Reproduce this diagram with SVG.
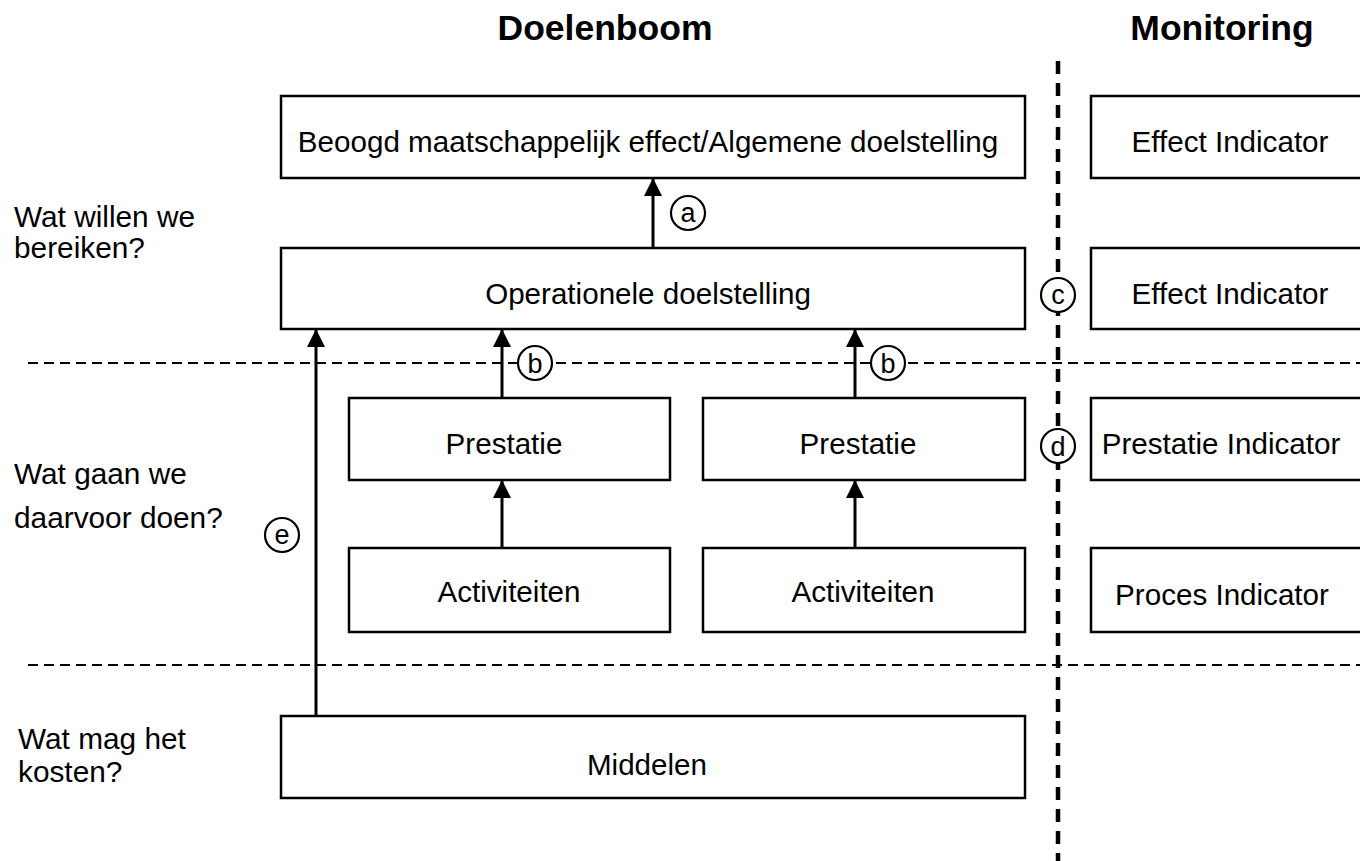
<svg xmlns="http://www.w3.org/2000/svg" width="1360" height="861" viewBox="0 0 1360 861">
<style>
text{font-family:"Liberation Sans",Arial,sans-serif;fill:#000}
.box{fill:#fff;stroke:#000;stroke-width:2.5}
.bt{font-size:29.6px;text-anchor:middle}
.lbl{font-size:29.8px}
.title{font-size:35.5px;font-weight:bold;text-anchor:middle}
.arr{stroke:#000;stroke-width:3;fill:none;marker-end:url(#ah)}
.hd{stroke:#000;stroke-width:2;stroke-dasharray:10 6;fill:none}
.vd{stroke:#000;stroke-width:4.5;stroke-dasharray:13 9;fill:none}
.cir{fill:#fff;stroke:#000;stroke-width:2.2}
.ct{font-size:27px;text-anchor:middle}
</style>
<defs>
<marker id="ah" viewBox="0 0 18 18" refX="18" refY="9" markerWidth="18" markerHeight="18" markerUnits="userSpaceOnUse" orient="auto">
<path d="M0,0 L18,9 L0,18 Z" fill="#000"/>
</marker>
</defs>
<rect width="1360" height="861" fill="#fff"/>
<text class="title" x="605" y="40">Doelenboom</text>
<text class="title" x="1222" y="40">Monitoring</text>
<g id="guides">
<line class="hd" x1="28" y1="363" x2="1360" y2="363"/>
<line class="hd" x1="28" y1="665" x2="1360" y2="665"/>
<line class="vd" x1="1058" y1="61" x2="1058" y2="861"/>
</g>
<g id="labels">
<text class="lbl" x="14" y="227">Wat willen we</text>
<text class="lbl" x="14" y="258">bereiken?</text>
<text class="lbl" x="14" y="484">Wat gaan we</text>
<text class="lbl" x="14" y="528">daarvoor doen?</text>
<text class="lbl" x="18" y="749">Wat mag het</text>
<text class="lbl" x="18" y="782">kosten?</text>
</g>
<g id="n-effect"><rect class="box" x="281" y="96" width="744" height="82"/><text class="bt" x="648" y="152">Beoogd maatschappelijk effect/Algemene doelstelling</text></g>
<g id="n-oper"><rect class="box" x="281" y="248" width="744" height="81"/><text class="bt" x="648" y="304">Operationele doelstelling</text></g>
<g id="n-prest1"><rect class="box" x="349" y="398" width="321" height="82"/><text class="bt" x="504" y="454">Prestatie</text></g>
<g id="n-prest2"><rect class="box" x="703" y="398" width="322" height="82"/><text class="bt" x="858" y="454">Prestatie</text></g>
<g id="n-act1"><rect class="box" x="349" y="548" width="321" height="84"/><text class="bt" x="509" y="602">Activiteiten</text></g>
<g id="n-act2"><rect class="box" x="703" y="548" width="322" height="84"/><text class="bt" x="863" y="602">Activiteiten</text></g>
<g id="n-middelen"><rect class="box" x="281" y="716" width="744" height="82"/><text class="bt" x="647" y="775">Middelen</text></g>
<g id="n-ei1"><rect class="box" x="1091" y="96" width="300" height="82"/><text class="bt" x="1230" y="152">Effect Indicator</text></g>
<g id="n-ei2"><rect class="box" x="1091" y="248" width="300" height="81"/><text class="bt" x="1230" y="304">Effect Indicator</text></g>
<g id="n-pi"><rect class="box" x="1091" y="398" width="300" height="82"/><text class="bt" x="1221" y="454">Prestatie Indicator</text></g>
<g id="n-proc"><rect class="box" x="1091" y="548" width="300" height="84"/><text class="bt" x="1222" y="605">Proces Indicator</text></g>
<g id="connectors">
<line class="arr" x1="653" y1="248" x2="653" y2="178"/>
<line class="arr" x1="502" y1="398" x2="502" y2="329"/>
<line class="arr" x1="855" y1="398" x2="855" y2="329"/>
<line class="arr" x1="502" y1="548" x2="502" y2="480"/>
<line class="arr" x1="855" y1="548" x2="855" y2="480"/>
<line class="arr" x1="316" y1="716" x2="316" y2="329"/>
</g>
<g id="markers">
<circle class="cir" cx="688" cy="213" r="17"/><text class="ct" x="688" y="222">a</text>
<circle class="cir" cx="535" cy="363" r="17"/><text class="ct" x="535" y="373">b</text>
<circle class="cir" cx="888" cy="363" r="17"/><text class="ct" x="888" y="373">b</text>
<circle class="cir" cx="1058" cy="295" r="17"/><text class="ct" x="1058" y="304">c</text>
<circle class="cir" cx="1058" cy="446" r="17"/><text class="ct" x="1058" y="456">d</text>
<circle class="cir" cx="282" cy="535" r="17"/><text class="ct" x="282" y="544">e</text>
</g>
</svg>
